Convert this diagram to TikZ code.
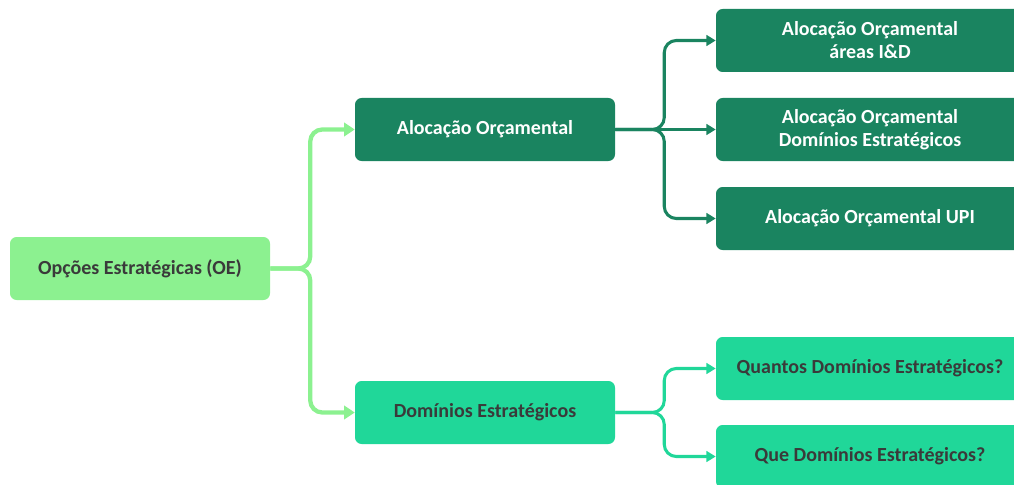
\documentclass[tikz,border=0pt]{standalone}
\usepackage{fontspec}
\setmainfont{Carlito}
\usetikzlibrary{arrows.meta}
\definecolor{lightg}{HTML}{8CF190}
\definecolor{darkg}{HTML}{1A8460}
\definecolor{brightg}{HTML}{20D799}
\definecolor{txtgray}{HTML}{3A3A3A}
\tikzset{
  box/.style={rounded corners=5pt, minimum height=47.25pt, inner sep=0pt, align=center, font=\bfseries\fontsize{15}{17.3}\selectfont},
  rootbox/.style={box, fill=lightg, text=txtgray, minimum width=195pt},
  midbox/.style={box, minimum width=195pt},
  leafbox/.style={box, minimum width=231pt},
  darkbox/.style={fill=darkg, text=white},
  brightbox/.style={fill=brightg, text=txtgray},
  lightconn/.style={draw=lightg, line width=3.2pt, rounded corners=9pt, -{Triangle[length=8pt,width=10pt]}},
  darkconn/.style={draw=darkg, line width=2.3pt, rounded corners=9pt, -{Triangle[length=7pt,width=8pt]}},
  brightconn/.style={draw=brightg, line width=2.3pt, rounded corners=9pt, -{Triangle[length=7pt,width=8pt]}},
}
\begin{document}
\begin{tikzpicture}[x=0.75pt,y=-0.75pt]
\useasboundingbox (0,0) rectangle (1014,485);
\clip (0,0) rectangle (1014,485);
\node[rootbox] (root) at (140,268.5) {Opções Estratégicas (OE)};
\node[midbox, darkbox] (aloc) at (485,129.5) {Alocação Orçamental};
\node[midbox, brightbox] (dom) at (485,412.5) {Domínios Estratégicos};
\node[leafbox, darkbox] (a1) at (870,40.5) {Alocação Orçamental\\áreas I\&D};
\node[leafbox, darkbox] (a2) at (870,129.5) {Alocação Orçamental\\Domínios Estratégicos};
\node[leafbox, darkbox] (a3) at (870,218.5) {Alocação Orçamental UPI};
\node[leafbox, brightbox] (d1) at (870,368.5) {Quantos Domínios Estratégicos?};
\node[leafbox, brightbox] (d2) at (870,456.5) {Que Domínios Estratégicos?};
\draw[lightconn] (root.east) -- ++(40,0) |- (aloc.west);
\draw[lightconn] (root.east) -- ++(40,0) |- (dom.west);
\draw[darkconn] (aloc.east) -- ++(49,0) |- (a1.west);
\draw[darkconn] (aloc.east) -- (a2.west);
\draw[darkconn] (aloc.east) -- ++(49,0) |- (a3.west);
\draw[brightconn] (dom.east) -- ++(49,0) |- (d1.west);
\draw[brightconn] (dom.east) -- ++(49,0) |- (d2.west);
\end{tikzpicture}
\end{document}
